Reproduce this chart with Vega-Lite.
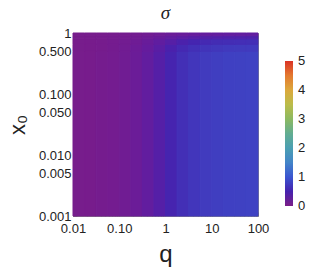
{
  "$schema": "https://vega.github.io/schema/vega-lite/v6.json",
  "width": 185,
  "height": 183,
  "autosize": {"type": "none"},
  "padding": {"left": 73, "top": 33, "right": 54, "bottom": 55},
  "background": "white",
  "title": {"text": "σ", "font": "Liberation Serif", "fontStyle": "italic", "fontWeight": "normal", "fontSize": 19, "color": "#222", "anchor": "middle", "frame": "group", "offset": 4},
  "config": {
    "view": {"stroke": "#8a8a8a", "strokeWidth": 1},
    "axis": {"labelFont": "Liberation Sans", "labelFontSize": 13, "labelColor": "#222", "titleFont": "Liberation Sans", "titleFontWeight": "normal", "titleColor": "#222", "domain": false, "tickColor": "#777", "labelOverlap": false, "labelFlush": false, "grid": false},
    "legend": {"labelFont": "Liberation Sans", "labelFontSize": 13, "labelColor": "#222"}
  },
  "data": {"values": [
    {"a":0.01,"b":0.01778,"c":0.001,"d":0.5,"s":0.064},
    {"a":0.01778,"b":0.03162,"c":0.001,"d":0.5,"s":0.075},
    {"a":0.03162,"b":0.05623,"c":0.001,"d":0.5,"s":0.092},
    {"a":0.05623,"b":0.1,"c":0.001,"d":0.5,"s":0.12},
    {"a":0.1,"b":0.1778,"c":0.001,"d":0.5,"s":0.164},
    {"a":0.1778,"b":0.3162,"c":0.001,"d":0.5,"s":0.228},
    {"a":0.3162,"b":0.5623,"c":0.001,"d":0.5,"s":0.314},
    {"a":0.5623,"b":1,"c":0.001,"d":0.5,"s":0.415},
    {"a":1,"b":1.778,"c":0.001,"d":0.5,"s":0.517},
    {"a":1.778,"b":3.162,"c":0.001,"d":0.5,"s":0.607},
    {"a":3.162,"b":5.623,"c":0.001,"d":0.5,"s":0.676},
    {"a":5.623,"b":10,"c":0.001,"d":0.5,"s":0.72},
    {"a":10,"b":17.78,"c":0.001,"d":0.5,"s":0.75},
    {"a":17.78,"b":31.62,"c":0.001,"d":0.5,"s":0.77},
    {"a":31.62,"b":56.23,"c":0.001,"d":0.5,"s":0.78},
    {"a":56.23,"b":100,"c":0.001,"d":0.5,"s":0.79},
    {"a":0.01,"b":0.01778,"c":0.5,"d":0.65,"s":0.064},
    {"a":0.01778,"b":0.03162,"c":0.5,"d":0.65,"s":0.074},
    {"a":0.03162,"b":0.05623,"c":0.5,"d":0.65,"s":0.089},
    {"a":0.05623,"b":0.1,"c":0.5,"d":0.65,"s":0.114},
    {"a":0.1,"b":0.1778,"c":0.5,"d":0.65,"s":0.154},
    {"a":0.1778,"b":0.3162,"c":0.5,"d":0.65,"s":0.212},
    {"a":0.3162,"b":0.5623,"c":0.5,"d":0.65,"s":0.289},
    {"a":0.5623,"b":1,"c":0.5,"d":0.65,"s":0.38},
    {"a":1,"b":1.778,"c":0.5,"d":0.65,"s":0.472},
    {"a":1.778,"b":3.162,"c":0.5,"d":0.65,"s":0.553},
    {"a":3.162,"b":5.623,"c":0.5,"d":0.65,"s":0.615},
    {"a":5.623,"b":10,"c":0.5,"d":0.65,"s":0.654},
    {"a":10,"b":17.78,"c":0.5,"d":0.65,"s":0.681},
    {"a":17.78,"b":31.62,"c":0.5,"d":0.65,"s":0.699},
    {"a":31.62,"b":56.23,"c":0.5,"d":0.65,"s":0.708},
    {"a":56.23,"b":100,"c":0.5,"d":0.65,"s":0.717},
    {"a":0.01,"b":0.01778,"c":0.65,"d":0.8,"s":0.064},
    {"a":0.01778,"b":0.03162,"c":0.65,"d":0.8,"s":0.072},
    {"a":0.03162,"b":0.05623,"c":0.65,"d":0.8,"s":0.085},
    {"a":0.05623,"b":0.1,"c":0.65,"d":0.8,"s":0.106},
    {"a":0.1,"b":0.1778,"c":0.65,"d":0.8,"s":0.139},
    {"a":0.1778,"b":0.3162,"c":0.65,"d":0.8,"s":0.187},
    {"a":0.3162,"b":0.5623,"c":0.65,"d":0.8,"s":0.252},
    {"a":0.5623,"b":1,"c":0.65,"d":0.8,"s":0.327},
    {"a":1,"b":1.778,"c":0.65,"d":0.8,"s":0.404},
    {"a":1.778,"b":3.162,"c":0.65,"d":0.8,"s":0.471},
    {"a":3.162,"b":5.623,"c":0.65,"d":0.8,"s":0.523},
    {"a":5.623,"b":10,"c":0.65,"d":0.8,"s":0.556},
    {"a":10,"b":17.78,"c":0.65,"d":0.8,"s":0.579},
    {"a":17.78,"b":31.62,"c":0.65,"d":0.8,"s":0.594},
    {"a":31.62,"b":56.23,"c":0.65,"d":0.8,"s":0.601},
    {"a":56.23,"b":100,"c":0.65,"d":0.8,"s":0.609},
    {"a":0.01,"b":0.01778,"c":0.8,"d":0.9,"s":0.064},
    {"a":0.01778,"b":0.03162,"c":0.8,"d":0.9,"s":0.07},
    {"a":0.03162,"b":0.05623,"c":0.8,"d":0.9,"s":0.079},
    {"a":0.05623,"b":0.1,"c":0.8,"d":0.9,"s":0.095},
    {"a":0.1,"b":0.1778,"c":0.8,"d":0.9,"s":0.119},
    {"a":0.1778,"b":0.3162,"c":0.8,"d":0.9,"s":0.154},
    {"a":0.3162,"b":0.5623,"c":0.8,"d":0.9,"s":0.2},
    {"a":0.5623,"b":1,"c":0.8,"d":0.9,"s":0.257},
    {"a":1,"b":1.778,"c":0.8,"d":0.9,"s":0.313},
    {"a":1.778,"b":3.162,"c":0.8,"d":0.9,"s":0.363},
    {"a":3.162,"b":5.623,"c":0.8,"d":0.9,"s":0.401},
    {"a":5.623,"b":10,"c":0.8,"d":0.9,"s":0.425},
    {"a":10,"b":17.78,"c":0.8,"d":0.9,"s":0.441},
    {"a":17.78,"b":31.62,"c":0.8,"d":0.9,"s":0.452},
    {"a":31.62,"b":56.23,"c":0.8,"d":0.9,"s":0.458},
    {"a":56.23,"b":100,"c":0.8,"d":0.9,"s":0.463},
    {"a":0.01,"b":0.01778,"c":0.9,"d":1,"s":0.064},
    {"a":0.01778,"b":0.03162,"c":0.9,"d":1,"s":0.068},
    {"a":0.03162,"b":0.05623,"c":0.9,"d":1,"s":0.074},
    {"a":0.05623,"b":0.1,"c":0.9,"d":1,"s":0.084},
    {"a":0.1,"b":0.1778,"c":0.9,"d":1,"s":0.099},
    {"a":0.1778,"b":0.3162,"c":0.9,"d":1,"s":0.121},
    {"a":0.3162,"b":0.5623,"c":0.9,"d":1,"s":0.152},
    {"a":0.5623,"b":1,"c":0.9,"d":1,"s":0.187},
    {"a":1,"b":1.778,"c":0.9,"d":1,"s":0.223},
    {"a":1.778,"b":3.162,"c":0.9,"d":1,"s":0.254},
    {"a":3.162,"b":5.623,"c":0.9,"d":1,"s":0.278},
    {"a":5.623,"b":10,"c":0.9,"d":1,"s":0.294},
    {"a":10,"b":17.78,"c":0.9,"d":1,"s":0.304},
    {"a":17.78,"b":31.62,"c":0.9,"d":1,"s":0.311},
    {"a":31.62,"b":56.23,"c":0.9,"d":1,"s":0.315},
    {"a":56.23,"b":100,"c":0.9,"d":1,"s":0.318}
  ]},
  "mark": {"type": "rect", "strokeWidth": 1, "stroke": {"expr": "scale('color', datum.s)"}},
  "encoding": {
    "x": {"field": "a", "type": "quantitative",
      "scale": {"type": "log", "domain": [0.01, 100], "nice": false},
      "axis": {"title": "q", "titleFontSize": 24, "titleY": 45, "titleBaseline": "alphabetic",
        "values": [0.01,0.02,0.03,0.04,0.05,0.06,0.07,0.08,0.09,0.1,0.2,0.3,0.4,0.5,0.6,0.7,0.8,0.9,1,2,3,4,5,6,7,8,9,10,20,30,40,50,60,70,80,90,100],
        "labelExpr": "datum.value==0.01?'0.01':datum.value==0.1?'0.10':datum.value==1?'1':datum.value==10?'10':datum.value==100?'100':''",
        "tickSize": {"condition": {"test": "indexof([0.01,0.1,1,10,100], datum.value) >= 0", "value": -4}, "value": -2},
        "labelPadding": 10}},
    "x2": {"field": "b"},
    "y": {"field": "c", "type": "quantitative",
      "scale": {"type": "log", "domain": [0.001, 1], "nice": false},
      "axis": {"title": "x₀", "titleFontSize": 22, "titleX": -56, "titleY": 91.5, "titleBaseline": "middle", "titleAlign": "center",
        "values": [0.001,0.002,0.003,0.004,0.005,0.006,0.007,0.008,0.009,0.01,0.02,0.03,0.04,0.05,0.06,0.07,0.08,0.09,0.1,0.2,0.3,0.4,0.5,0.6,0.7,0.8,0.9,1],
        "labelExpr": "datum.value==1?'1':indexof([0.001,0.005,0.01,0.05,0.1,0.5], datum.value) >= 0 ? format(datum.value, '.3f') : ''",
        "tickSize": {"condition": {"test": "indexof([0.001,0.005,0.01,0.05,0.1,0.5,1], datum.value) >= 0", "value": -4}, "value": -2},
        "labelPadding": 6}},
    "y2": {"field": "d"},
    "color": {"field": "s", "type": "quantitative",
      "scale": {"domain": [0,0.5,1,1.5,2,2.5,3,3.5,4,4.5,5], "range": ["#7b1e87","#4622ae","#3a55d0","#4385c8","#4b9fb2","#62ad91","#8cb961","#bbbc4a","#dca83c","#e3792f","#da3326"]},
      "legend": {"type": "gradient", "title": null, "orient": "none", "legendX": 212, "legendY": 28, "direction": "vertical", "gradientLength": 145, "gradientThickness": 8, "gradientStrokeWidth": 0, "values": [0,1,2,3,4,5], "labelOffset": 5,
        "encode": {"labels": {"update": {"baseline": {"value": "middle"}}}}}}
  }
}
